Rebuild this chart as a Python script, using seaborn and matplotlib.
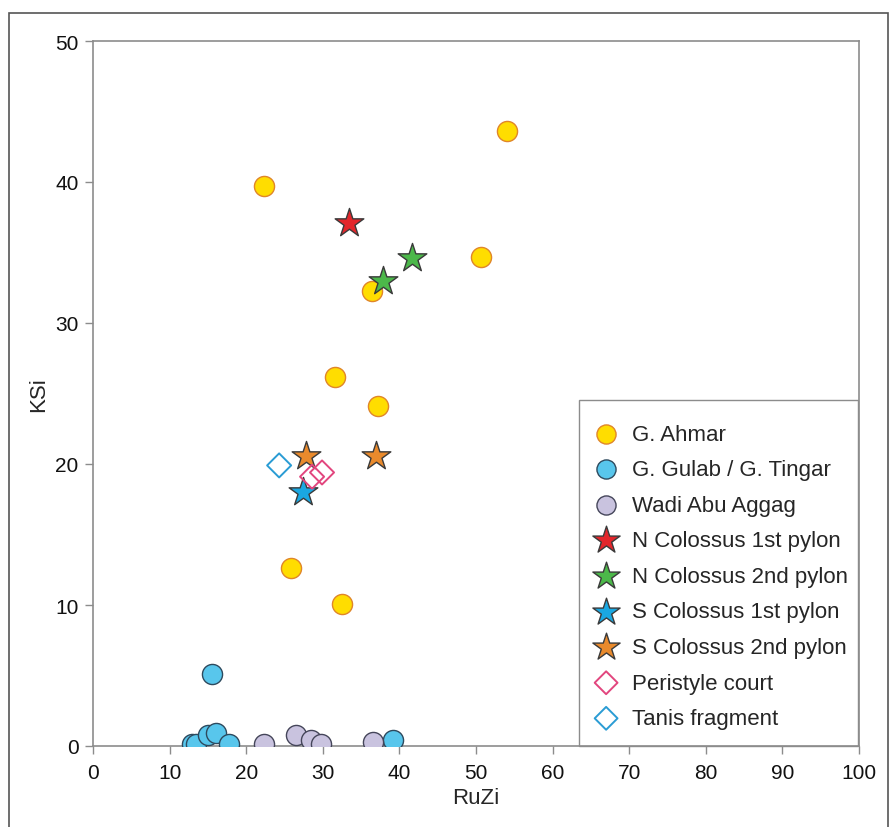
import numpy as np
import pandas as pd
import seaborn as sns
import matplotlib.pyplot as plt
from matplotlib.patches import Rectangle

# values
ahmar_x = [54.1, 22.3, 50.6, 36.4, 31.6, 37.2, 25.8, 32.5]
ahmar_y = [43.6, 39.7, 34.7, 32.3, 26.2, 24.1, 12.6, 10.1]
gulab_x = [15.6, 12.9, 13.5, 15.0, 16.0, 17.7, 39.2]
gulab_y = [5.1, 0.15, 0.15, 0.8, 0.9, 0.15, 0.4]
wadi_x = [22.3, 26.5, 28.5, 29.7, 36.5]
wadi_y = [0.15, 0.8, 0.4, 0.15, 0.3]
n1_x, n1_y = [33.4], [37.1]
n2_x, n2_y = [41.7, 37.8], [34.6, 33.0]
s1_x, s1_y = [27.4], [18.0]
s2_x, s2_y = [27.8, 37.0], [20.6, 20.6]
peri_x, peri_y = [28.6, 29.9], [19.1, 19.4]
tanis_x, tanis_y = [24.3], [19.9]

groups = [
    ("G. Ahmar", ahmar_x, ahmar_y, "o", "#FFDD00", "#E0862A", 210),
    ("G. Gulab / G. Tingar", gulab_x, gulab_y, "o", "#58C6EC", "#2E4A5E", 210),
    ("Wadi Abu Aggag", wadi_x, wadi_y, "o", "#C9C3DF", "#45465A", 210),
    ("N Colossus 1st pylon", n1_x, n1_y, "*", "#E3262B", "#3A3A3A", 470),
    ("N Colossus 2nd pylon", n2_x, n2_y, "*", "#4CB84A", "#3A3A3A", 470),
    ("S Colossus 1st pylon", s1_x, s1_y, "*", "#1AA8E2", "#3A3A3A", 470),
    ("S Colossus 2nd pylon", s2_x, s2_y, "*", "#E98A2C", "#3A3A3A", 470),
    ("Peristyle court", peri_x, peri_y, "D", "none", "#E2467E", 150),
    ("Tanis fragment", tanis_x, tanis_y, "D", "none", "#2A9CD4", 150),
]

sns.set_style("white")
plt.rcParams['font.family'] = ['Liberation Sans', 'DejaVu Sans']

fig = plt.figure(figsize=(8.93, 8.28), dpi=100)
ax = fig.add_axes([93 / 893, 1 - 747 / 828, (859 - 93) / 893, (747 - 42) / 828])

for name, xs, ys, mk, fc, ec, sz in groups:
    df = pd.DataFrame({"RuZi": xs, "KSi": ys})
    sns.scatterplot(data=df, x="RuZi", y="KSi", ax=ax, marker=mk, s=sz,
                    color=fc, edgecolor=ec, linewidth=1.4 if mk == "D" else 1.0,
                    label=name, zorder=3)

ax.set_xlim(0, 100)
ax.set_ylim(0, 50)
ax.set_xticks(np.arange(0, 101, 10))
ax.set_yticks(np.arange(0, 51, 10))
for sp in ax.spines.values():
    sp.set_visible(True)
    sp.set_color("#8c8c8c")
    sp.set_linewidth(1.2)
ax.tick_params(axis="both", which="major", length=5.5, width=1.0, color="#8c8c8c",
               labelsize=15, labelcolor="#111111", direction="out", pad=5,
               bottom=True, left=True)
ax.tick_params(axis="x", pad=7)
ax.set_xlabel("RuZi", fontsize=16, labelpad=3)
ax.set_ylabel("KSi", fontsize=16, labelpad=4)

# legend without its own frame; frame drawn as a box in the lower right
leg = ax.legend(loc="upper left", bbox_to_anchor=(0.651, 0.4574), borderaxespad=0,
                borderpad=0, fontsize=16, frameon=False,
                handletextpad=0.52, labelspacing=0.656,
                handlelength=1.3, markerscale=0.95)
ax.add_patch(Rectangle((0.6345, 0.0), 0.364, 0.491, transform=ax.transAxes,
                       fill=False, edgecolor="#8c8c8c", linewidth=1.0,
                       zorder=4, clip_on=False))

# outer frame around the figure
fig.patches.append(Rectangle((9 / 893, -0.05), (888 - 9) / 893, 1.05 - 14 / 828,
                             transform=fig.transFigure, fill=False,
                             edgecolor="#555555", linewidth=1.2))

plt.savefig("out.png", dpi=100)
